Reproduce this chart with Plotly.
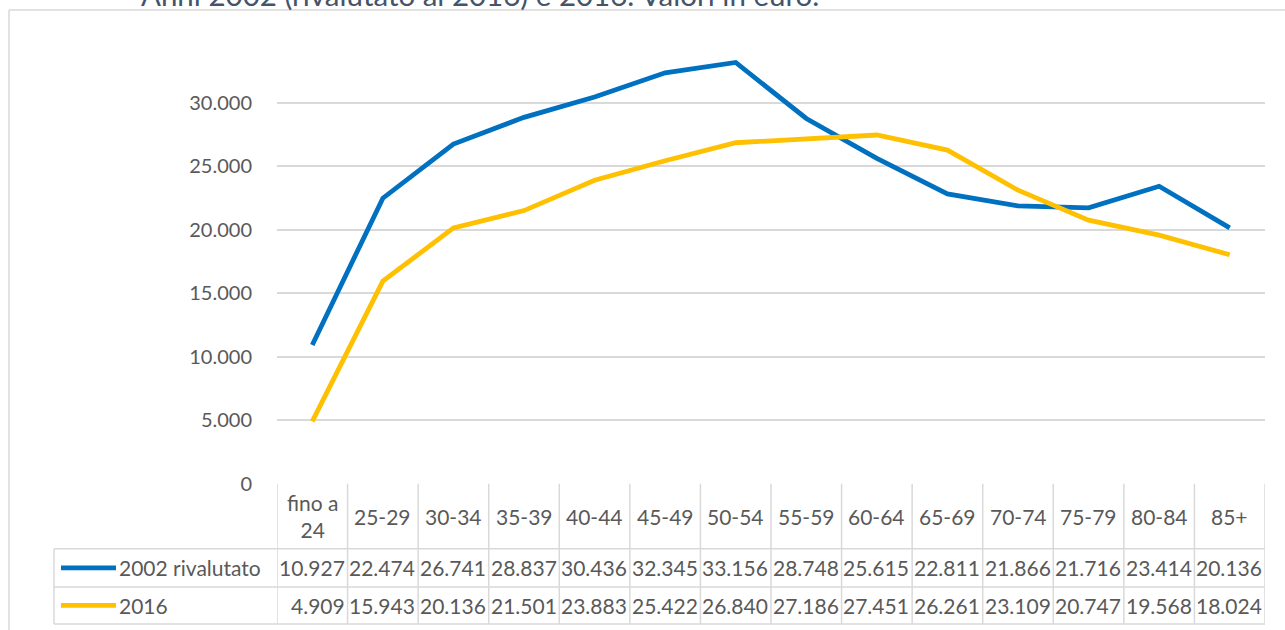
import plotly.graph_objects as go

# Fasce d'età e redditi medi (euro)
categorie = ["fino a<br>24", "25-29", "30-34", "35-39", "40-44", "45-49", "50-54",
             "55-59", "60-64", "65-69", "70-74", "75-79", "80-84", "85+"]
serie_2002 = [10927, 22474, 26741, 28837, 30436, 32345, 33156,
              28748, 25615, 22811, 21866, 21716, 23414, 20136]
serie_2016 = [4909, 15943, 20136, 21501, 23883, 25422, 26840,
              27186, 27451, 26261, 23109, 20747, 19568, 18024]
nomi_serie = ["2002 rivalutato", "2016"]
colori = ["#0070C0", "#FFC000"]
tick_vals = [0, 5000, 10000, 15000, 20000, 25000, 30000, 35000]
tick_text = ["0", "5.000", "10.000", "15.000", "20.000", "25.000", "30.000", ""]
titolo = "Anni 2002 (rivalutato al 2016) e 2016. Valori in euro."

W, H = 1285, 642
FONT = "Lato"
TXT = "#595959"
GRID = "#D9D9D9"
FS = 21
# layout rows are given on a 630-row grid and stretched to the page height
ROW_GRID = 630


def py(pix):
    """Grid row -> paper y."""
    return 1 - pix / ROW_GRID


def px(pix):
    return pix / W


def it_num(v):
    return f"{v:,}".replace(",", ".")


x_idx = list(range(len(categorie)))
fig = go.Figure()
for nome, vals, col in zip(nomi_serie, [serie_2002, serie_2016], colori):
    fig.add_trace(go.Scatter(x=x_idx, y=vals, mode="lines", name=nome,
                             line=dict(color=col, width=4.8),
                             hoverinfo="skip"))

plot_left, plot_right = 277, 1265
y_axis0, y_top = 483, 39
row_h, row1, row_end = 548, 586, 623
leg_left = 54

shapes = []
ann = []

# outer frame (top and left edges)
shapes.append(dict(type="line", xref="paper", yref="paper",
                   x0=px(9), x1=1, y0=py(10), y1=py(10),
                   line=dict(color=GRID, width=1.5)))
shapes.append(dict(type="line", xref="paper", yref="paper",
                   x0=px(9), x1=px(9), y0=0, y1=py(10),
                   line=dict(color=GRID, width=1.5)))

# data table: horizontal rules
for yy in (row_h, row1, row_end):
    shapes.append(dict(type="line", xref="paper", yref="paper",
                       x0=px(leg_left), x1=px(plot_right), y0=py(yy), y1=py(yy),
                       line=dict(color=GRID, width=1.5)))
# vertical rules at category boundaries
for i in range(len(categorie) + 1):
    shapes.append(dict(type="line", xref="x", yref="paper",
                       x0=i - 0.5, x1=i - 0.5, y0=py(row_end), y1=py(y_axis0),
                       line=dict(color=GRID, width=1.5)))
shapes.append(dict(type="line", xref="paper", yref="paper",
                   x0=px(leg_left), x1=px(leg_left), y0=py(row_end), y1=py(row_h),
                   line=dict(color=GRID, width=1.5)))

# header labels
for i, c in enumerate(categorie):
    ann.append(dict(x=i, y=py((y_axis0 + row_h) / 2), xref="x", yref="paper",
                    text=c, showarrow=False, font=dict(size=FS, color=TXT, family=FONT),
                    xanchor="center", yanchor="middle"))

# rows: legend key + values
for (yy0, yy1), nome, vals, col in zip([(row_h, row1), (row1, row_end)], nomi_serie,
                                      [serie_2002, serie_2016], colori):
    ym = py((yy0 + yy1) / 2)
    shapes.append(dict(type="line", xref="paper", yref="paper",
                       x0=px(61), x1=px(116), y0=ym, y1=ym,
                       line=dict(color=col, width=4.8)))
    ann.append(dict(x=px(117), y=ym, xref="paper", yref="paper", text=nome,
                    showarrow=False, xanchor="left", yanchor="middle",
                    font=dict(size=FS, color=TXT, family=FONT)))
    for i, v in enumerate(vals):
        ann.append(dict(x=i + 0.49, y=ym, xref="x", yref="paper", text=it_num(v),
                        showarrow=False, xanchor="right", yanchor="middle",
                        font=dict(size=FS, color=TXT, family=FONT)))

# title (partially above the page edge)
ann.append(dict(x=px(139), y=py(14), xref="paper", yref="paper", text=titolo,
                showarrow=False, xanchor="left", yanchor="bottom",
                font=dict(size=29.5, color="#44546A", family=FONT)))

fig.update_layout(
    width=W, height=H, autosize=False,
    margin=dict(l=0, r=0, t=0, b=0),
    paper_bgcolor="white", plot_bgcolor="white",
    showlegend=False,
    shapes=shapes, annotations=ann,
    xaxis=dict(domain=[px(plot_left), px(plot_right)], range=[-0.5, len(categorie) - 0.5],
               showticklabels=False, showgrid=False, zeroline=False, showline=False,
               fixedrange=True),
    yaxis=dict(domain=[py(y_axis0), py(y_top)], range=[0, 35000],
               tickvals=tick_vals, ticktext=tick_text,
               showgrid=True, gridcolor=GRID, gridwidth=1.5, zeroline=False,
               showline=False, ticks="outside", ticklen=20, tickcolor="rgba(0,0,0,0)",
               tickfont=dict(size=20, color=TXT, family=FONT), fixedrange=True),
)

fig.write_html("out.html", config={"displayModeBar": False})
